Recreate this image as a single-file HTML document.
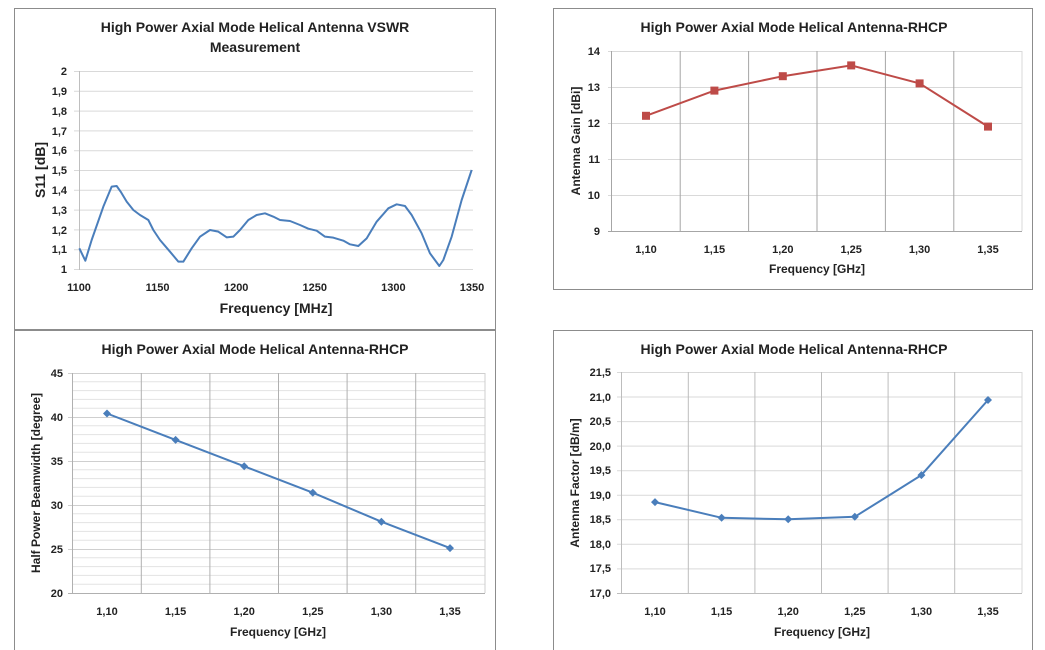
<!DOCTYPE html>
<html><head><meta charset="utf-8"><style>
html,body{margin:0;padding:0;background:#fff;}
svg{display:block;font-family:"Liberation Sans",sans-serif;font-weight:bold;}
</style></head><body>
<svg width="1045" height="650" viewBox="0 0 1045 650" xmlns="http://www.w3.org/2000/svg">
<rect width="1045" height="650" fill="#fff"/>
<!-- frames -->
<rect x="14.5" y="8.5" width="481" height="321" fill="none" stroke="#8c8c8c"/>
<rect x="553.5" y="8.5" width="479" height="281" fill="none" stroke="#8c8c8c"/>
<rect x="14.5" y="330.5" width="481" height="325" fill="none" stroke="#8c8c8c"/>
<rect x="553.5" y="330.5" width="479" height="325" fill="none" stroke="#8c8c8c"/>

<!-- CHART 1 -->
<g stroke="#d9d9d9" stroke-width="1">
<line x1="74" x2="473" y1="71.5" y2="71.5"/><line x1="74" x2="473" y1="91.3" y2="91.3"/>
<line x1="74" x2="473" y1="111.1" y2="111.1"/><line x1="74" x2="473" y1="130.9" y2="130.9"/>
<line x1="74" x2="473" y1="150.7" y2="150.7"/><line x1="74" x2="473" y1="170.5" y2="170.5"/>
<line x1="74" x2="473" y1="190.3" y2="190.3"/><line x1="74" x2="473" y1="210.1" y2="210.1"/>
<line x1="74" x2="473" y1="229.9" y2="229.9"/><line x1="74" x2="473" y1="249.7" y2="249.7"/>
<line x1="74" x2="473" y1="269.5" y2="269.5"/>
</g>
<line x1="79.5" x2="79.5" y1="71" y2="270" stroke="#bfbfbf"/>
<g font-size="11" text-anchor="end" fill="#222">
<text x="67" y="75">2</text><text x="67" y="95">1,9</text><text x="67" y="115">1,8</text>
<text x="67" y="135">1,7</text><text x="67" y="154">1,6</text><text x="67" y="174">1,5</text>
<text x="67" y="194">1,4</text><text x="67" y="214">1,3</text><text x="67" y="234">1,2</text>
<text x="67" y="253">1,1</text><text x="67" y="273">1</text>
</g>
<g font-size="11" text-anchor="middle" fill="#222">
<text x="79" y="291">1100</text><text x="157.6" y="291">1150</text><text x="236.2" y="291">1200</text>
<text x="314.8" y="291">1250</text><text x="393.4" y="291">1300</text><text x="472" y="291">1350</text>
</g>
<text x="255" y="32" font-size="14" text-anchor="middle" fill="#222">High Power Axial Mode Helical Antenna VSWR</text>
<text x="255" y="52" font-size="14" text-anchor="middle" fill="#222">Measurement</text>
<text x="276" y="313" font-size="14" text-anchor="middle" fill="#222">Frequency [MHz]</text>
<text transform="translate(45,170) rotate(-90)" font-size="14" text-anchor="middle" fill="#222">S11 [dB]</text>
<g transform="scale(0.33333)">
<polyline fill="none" stroke="#4a7ebb" stroke-width="6" stroke-linejoin="round" points="238,745 256,782 275,720 310,620 335,560 350,558 362,575 380,605 400,630 420,645 445,660 460,690 480,720 510,755 535,785 550,785 575,745 600,710 630,690 655,695 680,712 700,710 720,690 745,660 770,645 795,640 820,650 840,660 870,663 900,675 925,686 950,692 975,710 1000,713 1030,722 1050,733 1075,738 1100,715 1130,665 1165,625 1190,613 1215,618 1235,645 1265,700 1290,760 1318,798 1330,780 1355,710 1385,600 1415,510"/>
</g>

<!-- CHART 2 -->
<g stroke="#d9d9d9">
<line x1="608" x2="1022" y1="51.5" y2="51.5"/><line x1="608" x2="1022" y1="87.5" y2="87.5"/>
<line x1="608" x2="1022" y1="123.5" y2="123.5"/><line x1="608" x2="1022" y1="159.5" y2="159.5"/>
<line x1="608" x2="1022" y1="195.5" y2="195.5"/>
<line x1="1022" x2="1022" y1="51" y2="231"/>
</g>
<g stroke="#a6a6a6">
<line x1="680.2" x2="680.2" y1="51" y2="231"/><line x1="748.6" x2="748.6" y1="51" y2="231"/>
<line x1="817" x2="817" y1="51" y2="231"/><line x1="885.4" x2="885.4" y1="51" y2="231"/>
<line x1="953.8" x2="953.8" y1="51" y2="231"/>
<line x1="611.5" x2="611.5" y1="51" y2="231"/>
<line x1="608" x2="1022" y1="231.5" y2="231.5"/>
</g>
<g font-size="11" text-anchor="end" fill="#222">
<text x="600" y="55">14</text><text x="600" y="91">13</text><text x="600" y="127">12</text>
<text x="600" y="163">11</text><text x="600" y="199">10</text><text x="600" y="235">9</text>
</g>
<g font-size="11" text-anchor="middle" fill="#222">
<text x="646" y="253">1,10</text><text x="714.4" y="253">1,15</text><text x="782.8" y="253">1,20</text>
<text x="851.2" y="253">1,25</text><text x="919.6" y="253">1,30</text><text x="988" y="253">1,35</text>
</g>
<text x="794" y="32" font-size="14" text-anchor="middle" fill="#222">High Power Axial Mode Helical Antenna-RHCP</text>
<text x="817" y="273" font-size="12" text-anchor="middle" fill="#222">Frequency [GHz]</text>
<text transform="translate(580,141) rotate(-90)" font-size="12" text-anchor="middle" fill="#222">Antenna Gain [dBi]</text>
<polyline fill="none" stroke="#be4b48" stroke-width="2" points="646,115.8 714.4,90.6 782.8,76.2 851.2,65.4 919.6,83.4 988,126.6"/>
<g fill="#be4b48">
<rect x="642" y="111.8" width="8" height="8"/><rect x="710.4" y="86.6" width="8" height="8"/>
<rect x="778.8" y="72.2" width="8" height="8"/><rect x="847.2" y="61.4" width="8" height="8"/>
<rect x="915.6" y="79.4" width="8" height="8"/><rect x="984" y="122.6" width="8" height="8"/>
</g>

<!-- CHART 3 -->
<g stroke="#e3e3e3">
<line x1="72" x2="485" y1="381.8" y2="381.8"/><line x1="72" x2="485" y1="390.6" y2="390.6"/><line x1="72" x2="485" y1="399.4" y2="399.4"/><line x1="72" x2="485" y1="408.2" y2="408.2"/>
<line x1="72" x2="485" y1="425.8" y2="425.8"/><line x1="72" x2="485" y1="434.6" y2="434.6"/><line x1="72" x2="485" y1="443.4" y2="443.4"/><line x1="72" x2="485" y1="452.2" y2="452.2"/>
<line x1="72" x2="485" y1="469.8" y2="469.8"/><line x1="72" x2="485" y1="478.6" y2="478.6"/><line x1="72" x2="485" y1="487.4" y2="487.4"/><line x1="72" x2="485" y1="496.2" y2="496.2"/>
<line x1="72" x2="485" y1="513.8" y2="513.8"/><line x1="72" x2="485" y1="522.6" y2="522.6"/><line x1="72" x2="485" y1="531.4" y2="531.4"/><line x1="72" x2="485" y1="540.2" y2="540.2"/>
<line x1="72" x2="485" y1="557.8" y2="557.8"/><line x1="72" x2="485" y1="566.6" y2="566.6"/><line x1="72" x2="485" y1="575.4" y2="575.4"/><line x1="72" x2="485" y1="584.2" y2="584.2"/>
</g>
<g stroke="#cfcfcf">
<line x1="68" x2="485" y1="373.5" y2="373.5"/><line x1="68" x2="485" y1="417.5" y2="417.5"/>
<line x1="68" x2="485" y1="461.5" y2="461.5"/><line x1="68" x2="485" y1="505.5" y2="505.5"/>
<line x1="68" x2="485" y1="549.5" y2="549.5"/>
<line x1="485" x2="485" y1="373" y2="593"/>
</g>
<g stroke="#b0b0b0">
<line x1="141.3" x2="141.3" y1="373" y2="593"/><line x1="209.9" x2="209.9" y1="373" y2="593"/>
<line x1="278.5" x2="278.5" y1="373" y2="593"/><line x1="347.1" x2="347.1" y1="373" y2="593"/>
<line x1="415.7" x2="415.7" y1="373" y2="593"/>
<line x1="72.5" x2="72.5" y1="373" y2="593"/>
<line x1="68" x2="485" y1="593.5" y2="593.5"/>
</g>
<g font-size="11" text-anchor="end" fill="#222">
<text x="63" y="377">45</text><text x="63" y="421">40</text><text x="63" y="465">35</text>
<text x="63" y="509">30</text><text x="63" y="553">25</text><text x="63" y="597">20</text>
</g>
<g font-size="11" text-anchor="middle" fill="#222">
<text x="107" y="615">1,10</text><text x="175.6" y="615">1,15</text><text x="244.2" y="615">1,20</text>
<text x="312.8" y="615">1,25</text><text x="381.4" y="615">1,30</text><text x="450" y="615">1,35</text>
</g>
<text x="255" y="354" font-size="14" text-anchor="middle" fill="#222">High Power Axial Mode Helical Antenna-RHCP</text>
<text x="278" y="636" font-size="12" text-anchor="middle" fill="#222">Frequency [GHz]</text>
<text transform="translate(40,483) rotate(-90)" font-size="12" text-anchor="middle" fill="#222">Half Power Beamwidth [degree]</text>
<polyline fill="none" stroke="#4a7ebb" stroke-width="2" points="107,413.5 175.6,439.9 244.2,466.3 312.8,492.7 381.4,521.7 450,548.1"/>
<g fill="#4a7ebb">
<path d="M107,409.5 l4,4 -4,4 -4,-4z"/><path d="M175.6,435.9 l4,4 -4,4 -4,-4z"/>
<path d="M244.2,462.3 l4,4 -4,4 -4,-4z"/><path d="M312.8,488.7 l4,4 -4,4 -4,-4z"/>
<path d="M381.4,517.7 l4,4 -4,4 -4,-4z"/><path d="M450,544.1 l4,4 -4,4 -4,-4z"/>
</g>

<!-- CHART 4 -->
<g stroke="#d9d9d9">
<line x1="617" x2="1022" y1="372.5" y2="372.5"/><line x1="617" x2="1022" y1="397" y2="397"/>
<line x1="617" x2="1022" y1="421.6" y2="421.6"/><line x1="617" x2="1022" y1="446.1" y2="446.1"/>
<line x1="617" x2="1022" y1="470.7" y2="470.7"/><line x1="617" x2="1022" y1="495.2" y2="495.2"/>
<line x1="617" x2="1022" y1="519.8" y2="519.8"/><line x1="617" x2="1022" y1="544.3" y2="544.3"/>
<line x1="617" x2="1022" y1="568.9" y2="568.9"/>
<line x1="1022" x2="1022" y1="372" y2="593"/>
</g>
<g stroke="#bdbdbd">
<line x1="688.3" x2="688.3" y1="372" y2="593"/><line x1="754.9" x2="754.9" y1="372" y2="593"/>
<line x1="821.5" x2="821.5" y1="372" y2="593"/><line x1="888.1" x2="888.1" y1="372" y2="593"/>
<line x1="954.7" x2="954.7" y1="372" y2="593"/>
<line x1="621.5" x2="621.5" y1="372" y2="593"/>
<line x1="617" x2="1022" y1="593.5" y2="593.5"/>
</g>
<g font-size="11" text-anchor="end" fill="#222">
<text x="611" y="376">21,5</text><text x="611" y="401">21,0</text><text x="611" y="425">20,5</text>
<text x="611" y="450">20,0</text><text x="611" y="474">19,5</text><text x="611" y="499">19,0</text>
<text x="611" y="523">18,5</text><text x="611" y="548">18,0</text><text x="611" y="572">17,5</text>
<text x="611" y="597">17,0</text>
</g>
<g font-size="11" text-anchor="middle" fill="#222">
<text x="655" y="615">1,10</text><text x="721.6" y="615">1,15</text><text x="788.2" y="615">1,20</text>
<text x="854.8" y="615">1,25</text><text x="921.4" y="615">1,30</text><text x="988" y="615">1,35</text>
</g>
<text x="794" y="354" font-size="14" text-anchor="middle" fill="#222">High Power Axial Mode Helical Antenna-RHCP</text>
<text x="822" y="636" font-size="12" text-anchor="middle" fill="#222">Frequency [GHz]</text>
<text transform="translate(579,483) rotate(-90)" font-size="12" text-anchor="middle" fill="#222">Antenna Factor [dB/m]</text>
<polyline fill="none" stroke="#4a7ebb" stroke-width="2" points="655,502.1 721.6,517.8 788.2,519.3 854.8,516.8 921.4,475.1 988,400"/>
<g fill="#4a7ebb">
<path d="M655,498.1 l4,4 -4,4 -4,-4z"/><path d="M721.6,513.8 l4,4 -4,4 -4,-4z"/>
<path d="M788.2,515.3 l4,4 -4,4 -4,-4z"/><path d="M854.8,512.8 l4,4 -4,4 -4,-4z"/>
<path d="M921.4,471.1 l4,4 -4,4 -4,-4z"/><path d="M988,396 l4,4 -4,4 -4,-4z"/>
</g>
</svg>
</body></html>
